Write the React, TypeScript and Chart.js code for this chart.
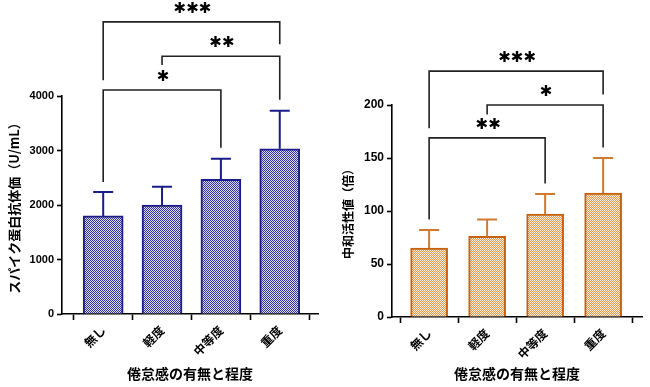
import React, { useEffect, useRef } from 'react';
import { Chart, registerables } from 'chart.js';

Chart.register(...registerables);

// ---- data ----
const categories = ['無し', '軽度', '中等度', '重度'];
const antibodyMeans = [1800, 2000, 2470, 3030];
const antibodyErrors = [440, 335, 380, 700];
const neutralMeans = [65, 76, 97, 117];
const neutralErrors = [17, 16, 19, 33];
const antibodyTicks = [0, 1000, 2000, 3000, 4000];
const neutralTicks = [0, 50, 100, 150, 200];
// significance comparisons: [from, to, label]
const antibodyComparisons: [number, number, string][] = [
  [0, 3, '***'],
  [1, 3, '**'],
  [0, 2, '*'],
];
const neutralComparisons: [number, number, string][] = [
  [0, 3, '***'],
  [1, 3, '*'],
  [0, 2, '**'],
];
// bracket levels in data units: [top, left leg end, right leg end]
const antibodyBracketLevels = [
  [5360, 4290, 4950],
  [4730, 4570, 3930],
  [4110, 2420, 3050],
];
const neutralBracketLevels = [
  [232, 178, 210],
  [200, 191, 160],
  [169, 92, 126],
];

const CJK = '"Noto Sans CJK JP", "Noto Sans", sans-serif';
const NUM = '"Liberation Sans", Arial, sans-serif';

function makePattern(dark: string, light: string): CanvasPattern | string {
  const c = document.createElement('canvas');
  c.width = 2;
  c.height = 2;
  const g = c.getContext('2d');
  if (!g) return dark;
  g.fillStyle = light;
  g.fillRect(0, 0, 2, 2);
  g.fillStyle = dark;
  g.fillRect(0, 0, 1, 1);
  g.fillRect(1, 1, 1, 1);
  const p = g.createPattern(c, 'repeat');
  return p || dark;
}

function annotPlugin(
  errors: number[],
  means: number[],
  comparisons: [number, number, string][],
  levels: number[][],
  errColor: string
) {
  return {
    id: 'annot',
    afterDatasetsDraw(chart: any) {
      const { ctx } = chart;
      const xs = chart.scales.x;
      const ys = chart.scales.y;
      ctx.save();
      // error bars
      ctx.strokeStyle = errColor;
      ctx.lineWidth = 2;
      means.forEach((m, i) => {
        const x = xs.getPixelForValue(i);
        const yb = ys.getPixelForValue(m);
        const yt = ys.getPixelForValue(m + errors[i]);
        ctx.beginPath();
        ctx.moveTo(x, yb);
        ctx.lineTo(x, yt);
        ctx.moveTo(x - 10, yt);
        ctx.lineTo(x + 10, yt);
        ctx.stroke();
      });
      // brackets
      ctx.strokeStyle = '#222';
      ctx.lineWidth = 1.6;
      ctx.fillStyle = '#000';
      ctx.textAlign = 'center';
      ctx.textBaseline = 'middle';
      ctx.font = 'bold 15px "DejaVu Sans"';
      try {
        (ctx as any).letterSpacing = '0px';
      } catch (e) {}
      comparisons.forEach(([a, b, label], k) => {
        const [top, le, re] = levels[k];
        const x1 = xs.getPixelForValue(a);
        const x2 = xs.getPixelForValue(b);
        const yTop = ys.getPixelForValue(top);
        ctx.beginPath();
        ctx.moveTo(x1, ys.getPixelForValue(le));
        ctx.lineTo(x1, yTop);
        ctx.lineTo(x2, yTop);
        ctx.lineTo(x2, ys.getPixelForValue(re));
        ctx.stroke();
        ctx.fillText(label.replace(/\*/g, '✱'), (x1 + x2) / 2 + 1, yTop - 13);
      });
      ctx.restore();
    },
  };
}

function buildConfig(opts: {
  means: number[];
  errors: number[];
  ticks: number[];
  comparisons: [number, number, string][];
  levels: number[][];
  fill: CanvasPattern | string;
  border: string;
  errColor: string;
  yTitle: string;
  yTitleSize: number;
  axisWidth: number;
  areaTop: number;
  areaBottom: number;
  rightPad: number;
  xMin: number;
  xMax: number;
  barThickness: number;
  titleOffset: number;
  tickFont: number;
}) {
  const tmax = opts.ticks[opts.ticks.length - 1];
  return {
    type: 'bar' as const,
    data: {
      datasets: [
        {
          data: opts.means.map((v, i) => ({ x: i, y: v })),
          backgroundColor: opts.fill,
          borderColor: opts.border,
          borderWidth: 2,
          borderSkipped: 'bottom',
          barThickness: opts.barThickness,
        },
      ],
    },
    options: {
      animation: false,
      responsive: false,
      layout: { padding: { top: opts.areaTop, right: opts.rightPad, bottom: 0, left: 0 } },
      plugins: { legend: { display: false }, tooltip: { enabled: false } },
      scales: {
        x: {
          type: 'linear',
          min: opts.xMin,
          max: opts.xMax,
          offset: false,
          afterBuildTicks: (s: any) => {
            s.ticks = categories.map((_, i) => ({ value: i }));
          },
          afterFit: (s: any) => {
            s.height = 387 - opts.areaBottom;
          },
          ticks: {
            autoSkip: false,
            maxRotation: 45,
            minRotation: 45,
            padding: 3,
            color: '#000',
            font: { family: CJK, size: 12, weight: 'bold' },
            callback: (v: any) => categories[Math.round(Number(v))] ?? '',
          },
          grid: {
            display: true,
            drawOnChartArea: false,
            drawTicks: true,
            tickLength: 6,
            tickWidth: 1.6,
            color: '#000',
          },
          border: { display: true, color: '#000', width: 1.6 },
          title: {
            display: true,
            text: '倦怠感の有無と程度',
            color: '#000',
            font: { family: CJK, size: 14, weight: 'bold' },
            padding: { top: 0, bottom: 5 },
          },
        },
        y: {
          type: 'linear',
          min: 0,
          max: tmax,
          afterBuildTicks: (s: any) => {
            s.ticks = opts.ticks.map((v) => ({ value: v }));
          },
          afterFit: (s: any) => {
            s.width = opts.axisWidth;
          },
          ticks: {
            padding: 3,
            color: '#000',
            font: { family: NUM, size: opts.tickFont, weight: 'bold' },
            callback: (v: any) => String(v),
          },
          grid: {
            display: true,
            drawOnChartArea: false,
            drawTicks: true,
            tickLength: 5,
            tickWidth: 1.6,
            color: '#000',
          },
          border: { display: true, color: '#000', width: 1.6 },
          title: {
            display: true,
            text: opts.yTitle,
            color: '#000',
            font: { family: CJK, size: opts.yTitleSize, weight: 'bold' },
            padding: { top: opts.titleOffset, bottom: 0 },
          },
        },
      },
    },
    plugins: [annotPlugin(opts.errors, opts.means, opts.comparisons, opts.levels, opts.errColor)],
  };
}

export default function App() {
  const leftRef = useRef<HTMLCanvasElement>(null);
  const rightRef = useRef<HTMLCanvasElement>(null);

  useEffect(() => {
    if (!leftRef.current || !rightRef.current) return;
    const left = new Chart(
      leftRef.current,
      buildConfig({
        means: antibodyMeans,
        errors: antibodyErrors,
        ticks: antibodyTicks,
        comparisons: antibodyComparisons,
        levels: antibodyBracketLevels,
        fill: makePattern('#34349c', '#dadaf6'),
        border: '#1c1c88',
        errColor: '#1c1c88',
        yTitle: 'スパイク蛋白抗体価（U/mL）',
        yTitleSize: 13,
        axisWidth: 62,
        areaTop: 96,
        areaBottom: 314,
        rightPad: 7,
        xMin: -0.7,
        xMax: 3.65,
        barThickness: 40,
        titleOffset: 6,
        tickFont: 11,
      }) as any
    );
    const right = new Chart(
      rightRef.current,
      buildConfig({
        means: neutralMeans,
        errors: neutralErrors,
        ticks: neutralTicks,
        comparisons: neutralComparisons,
        levels: neutralBracketLevels,
        fill: makePattern('#e0964e', '#fff2e2'),
        border: '#c4620f',
        errColor: '#d07a30',
        yTitle: '中和活性値（倍）',
        yTitleSize: 12,
        axisWidth: 67,
        areaTop: 105,
        areaBottom: 317,
        rightPad: 8,
        xMin: -0.64,
        xMax: 3.67,
        barThickness: 37,
        titleOffset: 16,
        tickFont: 12,
      }) as any
    );
    return () => {
      left.destroy();
      right.destroy();
    };
  }, []);

  return (
    <div style={{ position: 'fixed', left: 0, top: 0, width: 650, height: 387, background: '#fff' }}>
      <canvas ref={leftRef} width={325} height={387} style={{ position: 'absolute', left: 0, top: 0 }} />
      <canvas ref={rightRef} width={325} height={387} style={{ position: 'absolute', left: 325, top: 0 }} />
    </div>
  );
}
